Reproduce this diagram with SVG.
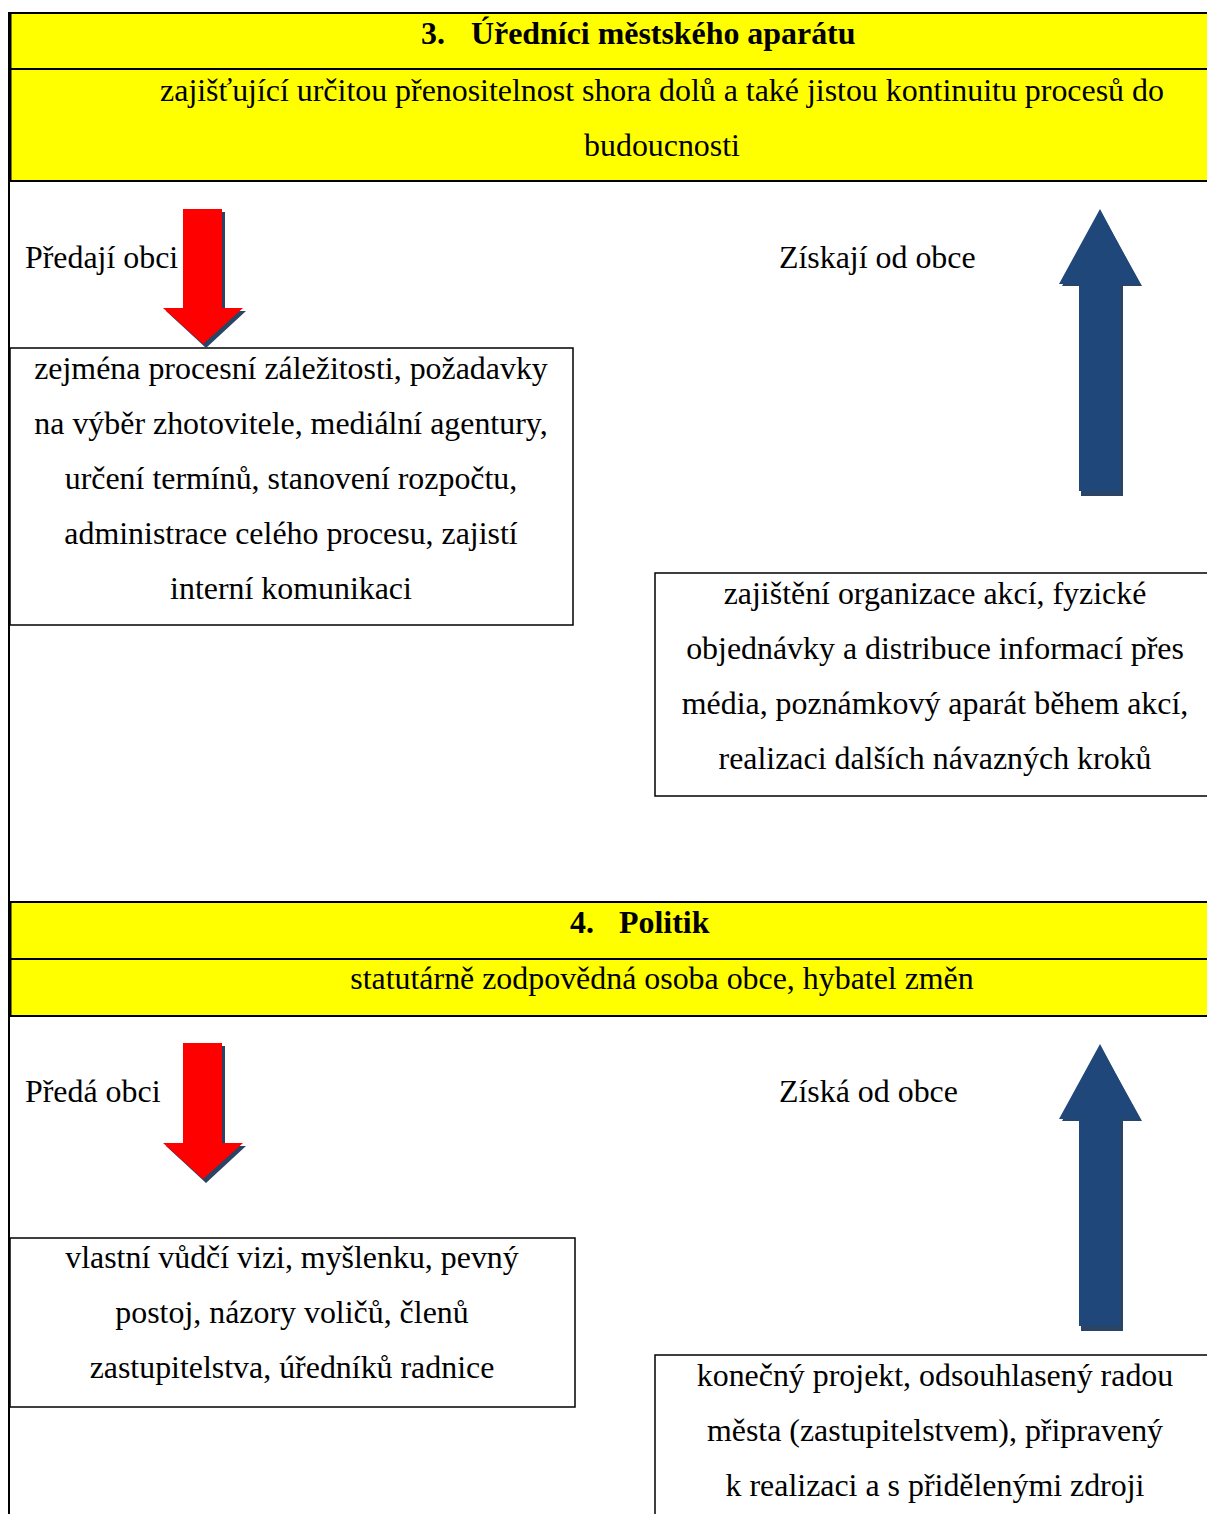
<svg xmlns="http://www.w3.org/2000/svg" width="1207" height="1514" viewBox="0 0 1207 1514">
<style>
text{font-family:"Liberation Serif","Times New Roman",serif;font-size:31.9px;fill:#000}
.b{font-weight:bold}
.c{text-anchor:middle}
.hdr{fill:#ffff00;stroke:#000;stroke-width:2}
.box{fill:#fff;stroke:#000;stroke-width:1.5}
.red{fill:#ff0000}
.sh{fill:#2a4466}
.blue{fill:#1f4779}
</style>
<line x1="9" y1="12" x2="9" y2="1514" stroke="#000" stroke-width="2"/>
<g id="header3">
<rect class="hdr" x="10" y="13" width="1200" height="168"/>
<line x1="10" y1="69" x2="1207" y2="69" stroke="#000" stroke-width="2"/>
<line x1="10" y1="13" x2="10" y2="181" stroke="#000" stroke-width="3"/>
<text class="b" x="421" y="44">3.</text>
<text class="b" x="471" y="44">Úředníci městského aparátu</text>
<text class="c" x="662" y="101">zajišťující určitou přenositelnost shora dolů a také jistou kontinuitu procesů do</text>
<text class="c" x="662" y="156">budoucnosti</text>
</g>
<g id="label3a"><text x="25" y="268">Předají obci</text></g>
<g id="label3b"><text x="779" y="268">Získají od obce</text></g>
<g id="box3a">
<rect class="box" x="10" y="348" width="563" height="277"/>
<text class="c" x="291" y="379">zejména procesní záležitosti, požadavky</text>
<text class="c" x="291" y="434">na výběr zhotovitele, mediální agentury,</text>
<text class="c" x="291" y="489">určení termínů, stanovení rozpočtu,</text>
<text class="c" x="291" y="544">administrace celého procesu, zajistí</text>
<text class="c" x="291" y="599">interní komunikaci</text>
</g>
<g id="box3b">
<rect class="box" x="655" y="573" width="560" height="223"/>
<text class="c" x="935" y="604">zajištění organizace akcí, fyzické</text>
<text class="c" x="935" y="659">objednávky a distribuce informací přes</text>
<text class="c" x="935" y="714">média, poznámkový aparát během akcí,</text>
<text class="c" x="935" y="769">realizaci dalších návazných kroků</text>
</g>
<g id="header4">
<rect class="hdr" x="10" y="902" width="1200" height="114"/>
<line x1="10" y1="959" x2="1207" y2="959" stroke="#000" stroke-width="2"/>
<line x1="10" y1="902" x2="10" y2="1016" stroke="#000" stroke-width="3"/>
<text class="b" x="570" y="933">4.</text>
<text class="b" x="619" y="933">Politik</text>
<text class="c" x="662" y="989">statutárně zodpovědná osoba obce, hybatel změn</text>
</g>
<g id="label4a"><text x="25" y="1102">Předá obci</text></g>
<g id="label4b"><text x="779" y="1102">Získá od obce</text></g>
<g id="box4a">
<rect class="box" x="10" y="1238" width="565" height="169"/>
<text class="c" x="292" y="1268">vlastní vůdčí vizi, myšlenku, pevný</text>
<text class="c" x="292" y="1323">postoj, názory voličů, členů</text>
<text class="c" x="292" y="1378">zastupitelstva, úředníků radnice</text>
</g>
<g id="box4b">
<rect class="box" x="655" y="1355" width="560" height="170"/>
<text class="c" x="935" y="1386">konečný projekt, odsouhlasený radou</text>
<text class="c" x="935" y="1441">města (zastupitelstvem), připravený</text>
<text class="c" x="935" y="1496">k realizaci a s přidělenými zdroji</text>
</g>
<g id="connectors">
<g id="arrow3down">
<polygon class="sh" points="186,212 225,212 225,311 246,311 206,348 166,311 186,311"/>
<polygon class="red" points="183,209 222,209 222,308 243,308 203,344 163,308 183,308"/>
</g>
<g id="arrow3up">
<polygon class="sh" points="1102,214 1142,286 1123,286 1123,496 1081,496 1081,286 1062,286"/>
<polygon class="blue" points="1100,209 1140,284 1120,284 1120,491 1079,491 1079,284 1059,284"/>
</g>
<g id="arrow4down">
<polygon class="sh" points="186,1046 225,1046 225,1146 246,1146 206,1183 166,1146 186,1146"/>
<polygon class="red" points="183,1043 222,1043 222,1143 243,1143 203,1179 163,1143 183,1143"/>
</g>
<g id="arrow4up">
<polygon class="sh" points="1102,1049 1142,1121 1123,1121 1123,1331 1081,1331 1081,1121 1062,1121"/>
<polygon class="blue" points="1100,1044 1140,1119 1120,1119 1120,1326 1079,1326 1079,1119 1059,1119"/>
</g>
</g>
</svg>
